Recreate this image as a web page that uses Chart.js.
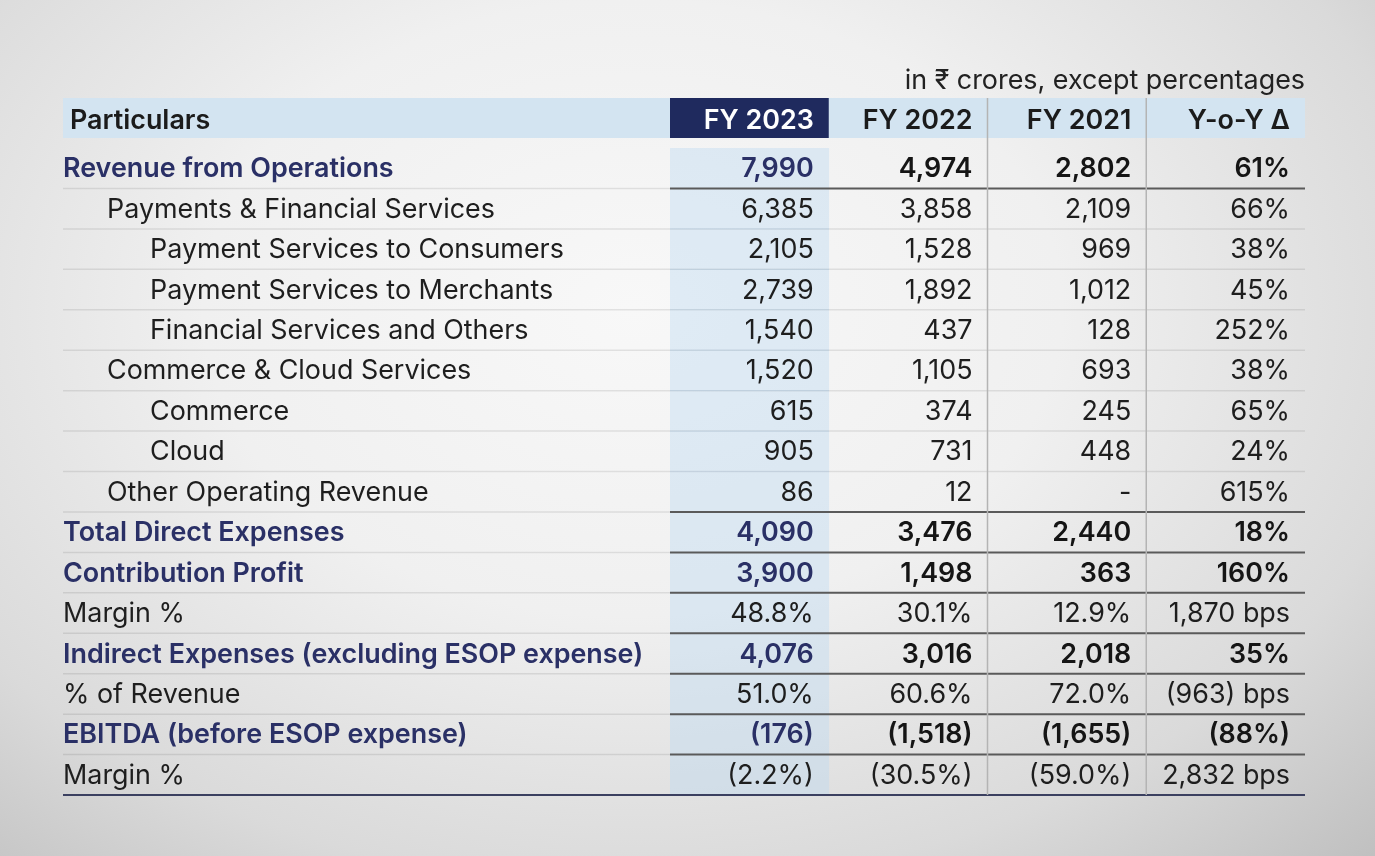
<!DOCTYPE html>
<html>
<head>
<meta charset="utf-8">
<script src="https://cdn.jsdelivr.net/npm/chart.js@4.4.1/dist/chart.umd.min.js"></script>
<style>
  html, body { margin: 0; padding: 0; }
  body {
    width: 1375px; height: 856px; overflow: hidden;
    background: radial-gradient(ellipse 78% 90% at 46% 36%, #f8f8f8 0%, #f0f0f0 40%, #dadada 75%, #bfbfbf 100%);
  }
  canvas { display: block; }
</style>
</head>
<body>
<canvas id="finchart" width="1375" height="856"></canvas>
<script>
const subtitle = 'in ₹ crores, except percentages';
const headerLabel = 'Particulars';
const columns = ['FY 2023', 'FY 2022', 'FY 2021', 'Y-o-Y Δ'];

const particulars = [
  'Revenue from Operations',
  'Payments & Financial Services',
  'Payment Services to Consumers',
  'Payment Services to Merchants',
  'Financial Services and Others',
  'Commerce & Cloud Services',
  'Commerce',
  'Cloud',
  'Other Operating Revenue',
  'Total Direct Expenses',
  'Contribution Profit',
  'Margin %',
  'Indirect Expenses (excluding ESOP expense)',
  '% of Revenue',
  'EBITDA (before ESOP expense)',
  'Margin %'
];
// hierarchy level of each row (0 = top line item)
const level = [0, 1, 2, 2, 2, 1, 2, 2, 1, 0, 0, 0, 0, 0, 0, 0];
// headline rows (shown in bold)
const headline = [1, 0, 0, 0, 0, 0, 0, 0, 0, 1, 1, 0, 1, 0, 1, 0];
// rows holding percentages (Y-o-Y shown in bps)
const ratioRow = [0, 0, 0, 0, 0, 0, 0, 0, 0, 0, 0, 1, 0, 1, 0, 1];

const fy2023 = [7990, 6385, 2105, 2739, 1540, 1520, 615, 905, 86, 4090, 3900, 48.8, 4076, 51.0, -176, -2.2];
const fy2022 = [4974, 3858, 1528, 1892, 437, 1105, 374, 731, 12, 3476, 1498, 30.1, 3016, 60.6, -1518, -30.5];
const fy2021 = [2802, 2109, 969, 1012, 128, 693, 245, 448, null, 2440, 363, 12.9, 2018, 72.0, -1655, -59.0];
const yoy = [61, 66, 38, 45, 252, 38, 65, 24, 615, 18, 160, 1870, 35, -963, -88, 2832];

// rows followed by a section rule
const sectionEnd = [0, 8, 9, 10, 11, 12, 13, 14];

const NAVY = '#2a3066';
const FONT = 'Inter, "Noto Sans", sans-serif';
const SIZE = '26.9px ';

function paren(neg, s) { return neg ? '(' + s + ')' : s; }
function fmtValue(v, ratio) {
  if (v === null) return '-';
  if (ratio) return paren(v < 0, Math.abs(v).toFixed(1) + '%');
  return paren(v < 0, Math.abs(v).toLocaleString('en-US'));
}
function fmtChange(v, ratio) {
  if (ratio) return paren(v < 0, Math.abs(v).toLocaleString('en-US')) + ' bps';
  return paren(v < 0, Math.abs(v) + '%');
}

const tablePlugin = {
  id: 'tablePlugin',
  beforeDatasetsDraw(chart) {
    const c = chart.ctx;
    const x = chart.scales.x;
    const left = 63;
    const hTop = chart.chartArea.top - 50, hH = 40;
    c.save();
    // header band
    c.fillStyle = '#d3e4f1';
    c.fillRect(left, hTop, x.getPixelForValue(4) - left, hH);
    c.fillStyle = '#1f2a5e';
    c.fillRect(x.getPixelForValue(0), hTop, x.getPixelForValue(1) - x.getPixelForValue(0), hH);
    c.restore();
  },
  afterDatasetsDraw(chart) {
    const c = chart.ctx;
    const x = chart.scales.x, y = chart.scales.y;
    const step = y.getPixelForValue(1) - y.getPixelForValue(0);
    const left = 63;
    const right = x.getPixelForValue(4);
    const numLeft = x.getPixelForValue(0);
    const hTop = chart.chartArea.top - 50, hH = 40;
    const n = particulars.length;
    c.save();

    // thin row rules
    c.strokeStyle = 'rgba(0,0,0,0.09)';
    c.lineWidth = 1.5;
    for (let i = 0; i < n - 1; i++) {
      const yy = y.getPixelForValue(i) + step / 2;
      c.beginPath();
      c.moveTo(left, yy);
      c.lineTo(sectionEnd.includes(i) ? numLeft : right, yy);
      c.stroke();
    }
    // section rules across the figures
    c.strokeStyle = '#5a5a5a';
    c.lineWidth = 2;
    sectionEnd.forEach(i => {
      const yy = y.getPixelForValue(i) + step / 2;
      c.beginPath();
      c.moveTo(numLeft, yy);
      c.lineTo(right, yy);
      c.stroke();
    });
    // closing rule
    const bottom = y.getPixelForValue(n - 1) + step / 2;
    c.strokeStyle = '#3b4060';
    c.beginPath();
    c.moveTo(left, bottom);
    c.lineTo(right, bottom);
    c.stroke();

    // column separators
    c.strokeStyle = '#b4b4b4';
    c.lineWidth = 1.5;
    [2, 3].forEach(k => {
      const xx = x.getPixelForValue(k);
      c.beginPath();
      c.moveTo(xx, hTop);
      c.lineTo(xx, bottom);
      c.stroke();
    });

    c.textBaseline = 'middle';
    // subtitle
    c.font = '400 ' + SIZE + FONT;
    c.fillStyle = '#222';
    c.textAlign = 'right';
    c.fillText(subtitle, right, hTop - 17);

    // header texts
    const hMid = hTop + hH / 2 + 3;
    c.font = '600 ' + SIZE + FONT;
    c.textAlign = 'left';
    c.fillStyle = '#1b1b1b';
    c.fillText(headerLabel, 70, hMid);
    c.textAlign = 'right';
    columns.forEach((col, k) => {
      c.fillStyle = k === 0 ? '#ffffff' : '#1b1b1b';
      c.fillText(col, x.getPixelForValue(k + 1) - 15, hMid);
    });

    // body rows
    const indent = [63, 107, 150];
    particulars.forEach((label, i) => {
      const yy = y.getPixelForValue(i) + 1;
      const bold = headline[i] === 1;
      const ratio = ratioRow[i] === 1;
      c.textAlign = 'left';
      c.font = (bold ? '600 ' : '400 ') + SIZE + FONT;
      c.fillStyle = bold ? NAVY : '#1e1e1e';
      c.fillText(label, indent[level[i]], yy);

      const cells = [fmtValue(fy2023[i], ratio), fmtValue(fy2022[i], ratio),
        fmtValue(fy2021[i], ratio), fmtChange(yoy[i], ratio)];
      c.textAlign = 'right';
      cells.forEach((txt, k) => {
        c.fillStyle = k === 0 && bold ? NAVY : (bold ? '#151515' : '#1e1e1e');
        c.fillText(txt, x.getPixelForValue(k + 1) - 15, yy);
      });
    });
    c.restore();
  }
};

new Chart(document.getElementById('finchart'), {
  type: 'bar',
  data: {
    labels: particulars,
    datasets: [{
      label: 'FY 2023 highlight',
      data: particulars.map(() => [0, 1]),
      backgroundColor: 'rgba(185, 215, 242, 0.38)',
      borderWidth: 0,
      barPercentage: 1,
      categoryPercentage: 1
    }]
  },
  options: {
    indexAxis: 'y',
    responsive: false,
    animation: false,
    devicePixelRatio: 1,
    events: [],
    layout: { padding: { left: 670, right: 70, top: 148, bottom: 61 } },
    scales: {
      x: { type: 'linear', min: 0, max: 4, display: false },
      y: { type: 'category', display: false }
    },
    plugins: {
      legend: { display: false },
      tooltip: { enabled: false }
    }
  },
  plugins: [tablePlugin]
});
</script>
</body>
</html>
